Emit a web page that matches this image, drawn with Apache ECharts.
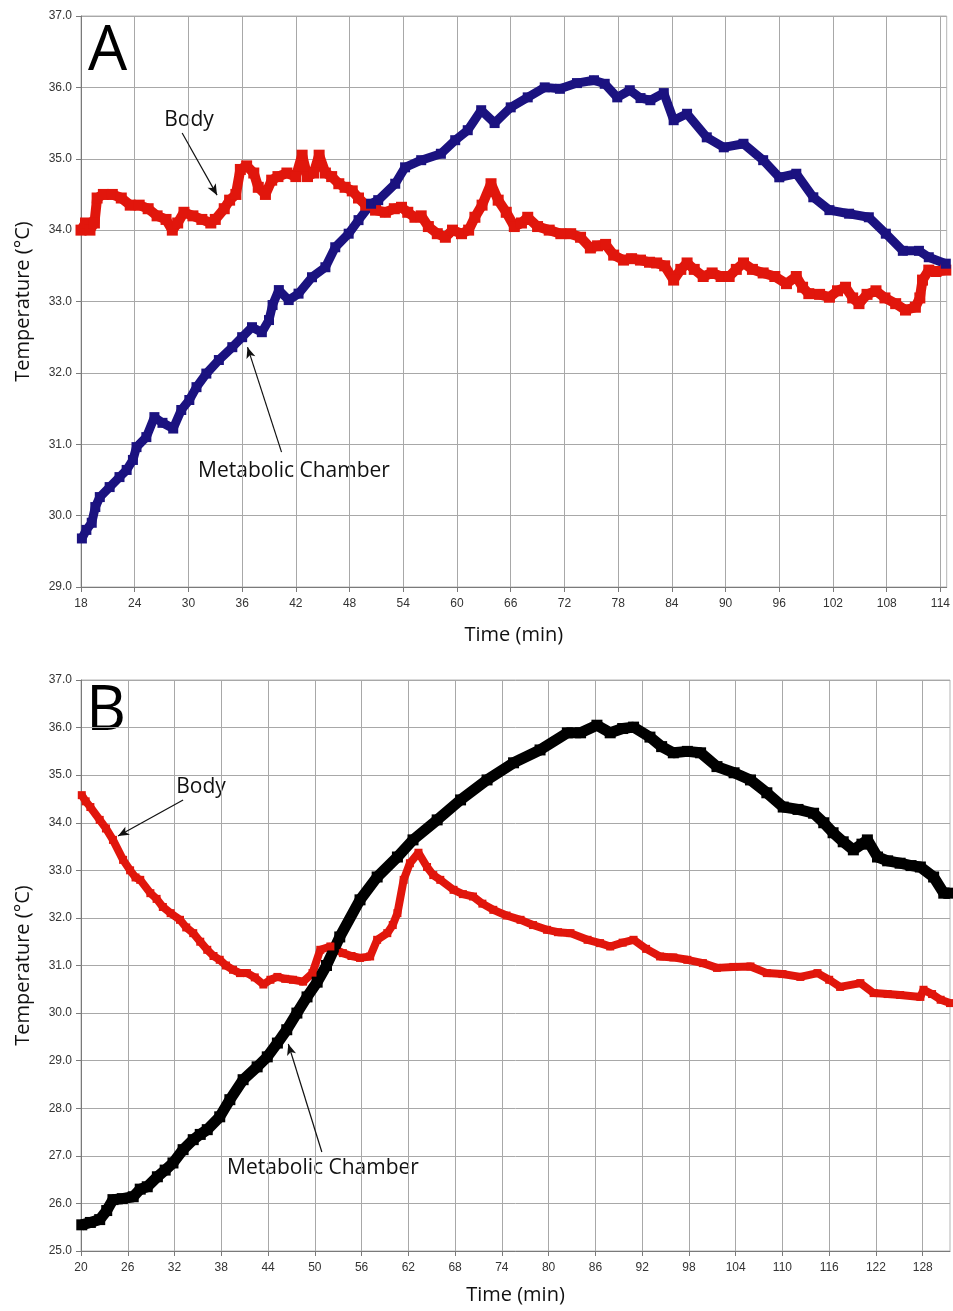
<!DOCTYPE html>
<html>
<head>
<meta charset="utf-8">
<script src="https://cdn.jsdelivr.net/npm/echarts@6/dist/echarts.min.js"></script>
<style>
html,body{margin:0;padding:0;background:#fff;}
#c{width:953px;height:1311px;}
</style>
</head>
<body>
<div id="c"></div>
<script>
// ---- Panel A data ----
const xTicksA = [18,24,30,36,42,48,54,60,66,72,78,84,90,96,102,108,114];
const yTicksA = [29,30,31,32,33,34,35,36,37];
const timeA_body = [18.0,18.5,19.0,19.5,19.8,20.5,21.5,22.5,23.5,24.5,25.5,26.5,27.5,28.2,28.8,29.5,30.5,31.5,32.5,33.0,34.0,34.6,35.3,35.8,36.5,37.3,37.8,38.6,39.3,40.0,41.0,42.0,42.7,43.3,44.0,44.6,45.3,46.0,46.8,47.5,48.3,49.0,49.8,50.9,52.0,53.0,53.8,54.5,55.3,56.0,56.8,57.8,58.7,59.5,60.5,61.3,62.0,62.8,63.8,64.6,65.5,66.4,67.2,67.9,69.0,70.3,71.6,72.7,73.8,74.9,75.7,76.6,77.5,78.6,79.5,80.5,81.5,82.3,83.2,84.2,85.0,85.7,86.5,87.5,88.5,89.5,90.4,91.2,92.0,93.0,94.2,95.5,96.8,97.9,98.6,99.3,100.5,101.6,102.5,103.4,104.2,104.9,105.8,106.8,107.8,109.0,110.1,111.2,111.7,112.0,112.7,113.5,114.6];
const tempA_body = [34.0,34.1,34.0,34.1,34.45,34.5,34.5,34.45,34.35,34.35,34.3,34.2,34.15,34.0,34.1,34.25,34.2,34.15,34.1,34.15,34.3,34.42,34.5,34.85,34.9,34.8,34.6,34.5,34.7,34.75,34.8,34.75,35.05,34.75,34.8,35.05,34.8,34.75,34.65,34.6,34.55,34.45,34.35,34.28,34.25,34.3,34.32,34.25,34.18,34.2,34.05,33.95,33.9,34.0,33.95,34.0,34.18,34.35,34.65,34.42,34.25,34.05,34.1,34.18,34.05,34.0,33.95,33.95,33.9,33.75,33.78,33.8,33.65,33.58,33.6,33.58,33.55,33.54,33.5,33.3,33.45,33.54,33.45,33.35,33.4,33.35,33.35,33.45,33.54,33.45,33.4,33.35,33.25,33.35,33.2,33.11,33.1,33.06,33.15,33.2,33.05,32.97,33.1,33.15,33.05,32.97,32.88,32.92,33.05,33.3,33.44,33.42,33.44];
const timeA_chamber = [18.1,18.6,19.2,19.6,20.1,21.2,22.3,23.1,23.8,24.2,25.3,26.2,27.1,28.3,29.2,30.1,30.9,32.0,33.4,34.9,36.0,37.1,38.2,39.0,39.4,40.1,41.2,42.3,43.8,45.3,46.4,47.9,49.0,50.4,51.2,53.1,54.2,56.0,58.2,59.8,61.2,62.7,64.2,66.0,67.9,69.8,71.5,73.4,75.3,76.5,77.9,79.3,80.5,81.6,83.1,84.2,85.7,87.9,89.8,92.0,94.2,96.0,97.9,99.8,101.6,103.8,106.0,107.9,109.8,111.6,112.7,114.6];
const tempA_chamber = [29.68,29.8,29.9,30.12,30.26,30.4,30.54,30.64,30.78,30.96,31.1,31.38,31.3,31.22,31.48,31.62,31.8,31.99,32.18,32.36,32.5,32.64,32.57,32.74,32.95,33.16,33.02,33.11,33.34,33.48,33.76,33.95,34.14,34.37,34.42,34.65,34.88,34.98,35.07,35.26,35.4,35.68,35.5,35.72,35.86,36.0,35.98,36.06,36.1,36.05,35.86,35.96,35.85,35.82,35.92,35.54,35.63,35.3,35.16,35.21,34.98,34.74,34.79,34.46,34.28,34.23,34.18,33.95,33.71,33.71,33.62,33.53];

// ---- Panel B data ----
const xTicksB = [20,26,32,38,44,50,56,62,68,74,80,86,92,98,104,110,116,122,128];
const yTicksB = [25,26,27,28,29,30,31,32,33,34,35,36,37];
const timeB_body = [20.1,20.6,21.2,22.4,23.2,24.1,25.4,26.3,27.0,27.6,28.9,29.7,30.5,31.5,32.7,33.5,34.4,35.3,36.2,37.0,37.8,38.6,39.5,40.4,41.3,42.3,43.4,44.3,45.2,46.2,47.2,48.5,49.7,50.7,52.0,53.6,54.7,55.8,57.1,58.0,59.3,60.0,60.6,61.4,62.2,63.3,64.4,65.2,66.1,67.8,69.0,70.3,71.5,72.9,74.6,76.4,78.0,79.8,81.2,82.8,85.0,86.6,87.9,89.5,90.9,92.5,94.3,96.0,97.8,99.8,101.6,103.7,105.9,108.0,110.0,112.3,114.5,116.0,117.4,120.0,121.7,123.5,125.1,127.7,128.1,129.2,130.3,131.5];
const tempB_body = [34.58,34.45,34.33,34.06,33.88,33.64,33.22,33.0,32.85,32.8,32.52,32.4,32.23,32.1,31.96,31.8,31.68,31.5,31.33,31.2,31.12,31.0,30.91,30.84,30.84,30.75,30.6,30.7,30.76,30.72,30.7,30.66,30.84,31.33,31.4,31.26,31.2,31.16,31.19,31.54,31.68,31.85,32.1,32.8,33.15,33.37,33.07,32.9,32.8,32.59,32.5,32.45,32.3,32.17,32.05,31.96,31.85,31.75,31.7,31.68,31.54,31.47,31.4,31.48,31.54,31.35,31.19,31.17,31.12,31.05,30.95,30.97,30.98,30.84,30.82,30.76,30.84,30.7,30.55,30.63,30.42,30.4,30.38,30.34,30.49,30.4,30.28,30.21];
const timeB_chamber = [20.1,21.2,22.4,23.3,24.1,25.3,26.7,27.6,28.5,29.8,30.8,31.8,33.1,34.4,35.3,36.2,37.8,39.1,40.8,42.6,43.9,45.2,46.4,47.7,49.0,50.3,51.5,53.2,55.8,58.0,60.6,62.6,65.7,68.7,72.1,75.5,78.9,82.4,84.1,86.2,87.9,89.5,90.9,93.0,94.5,96.0,97.8,99.5,101.6,103.8,105.9,108.0,110.1,112.0,114.0,115.3,116.5,117.8,119.1,120.2,120.9,122.2,123.5,125.1,126.5,127.7,129.4,130.7,131.5];
const tempB_chamber = [25.55,25.6,25.66,25.85,26.08,26.1,26.14,26.3,26.35,26.56,26.7,26.85,27.13,27.34,27.45,27.55,27.82,28.18,28.6,28.87,29.08,29.37,29.65,30.0,30.34,30.65,31.0,31.6,32.38,32.86,33.28,33.64,34.06,34.48,34.9,35.26,35.53,35.89,35.89,36.05,35.89,35.98,36.01,35.8,35.6,35.47,35.5,35.47,35.18,35.05,34.9,34.63,34.33,34.28,34.2,34.0,33.79,33.6,33.43,33.55,33.64,33.28,33.2,33.15,33.1,33.07,32.86,32.52,32.52];

const zip = (a, b) => a.map((v, i) => [v, b[i]]);

const RED = '#e1160c', NAVY = '#1b1280', BLACK = '#000000';
const tickFont = 'Liberation Sans, Arial, sans-serif';
const textFont = 'Open Sans, Noto Sans, sans-serif';

function xAxis(idx, min, max, ticks, gap) {
  return {
    type: 'value', gridIndex: idx, min: min, max: max,
    name: 'Time (min)', nameLocation: 'middle', nameGap: gap,
    nameTextStyle: {fontFamily: textFont, fontSize: 20, color: '#111'},
    axisLine: {show: true, onZero: false, lineStyle: {color: '#7a7a7a', width: 1}},
    axisTick: {show: true, length: 5, customValues: ticks, lineStyle: {color: '#7a7a7a'}},
    axisLabel: {customValues: ticks, margin: 11, fontFamily: tickFont, fontSize: 12, color: '#333'},
    splitLine: {show: true, lineStyle: {color: '#a8a8a8', width: 1}}
  };
}
function yAxis(idx, min, max) {
  return {
    type: 'value', gridIndex: idx, min: min, max: max, interval: 1,
    name: 'Temperature (°C)', nameLocation: 'middle', nameGap: 48, nameRotate: 90,
    nameTextStyle: {fontFamily: textFont, fontSize: 20, color: '#111'},
    axisLine: {show: true, lineStyle: {color: '#7a7a7a', width: 1}},
    axisTick: {show: true, length: 5, lineStyle: {color: '#7a7a7a'}},
    axisLabel: {formatter: v => v.toFixed(1), margin: 9, fontFamily: tickFont, fontSize: 12, color: '#333'},
    splitLine: {show: true, lineStyle: {color: '#a8a8a8', width: 1}}
  };
}
function arrow(from, to) {
  return {
    silent: true, animation: false, symbol: ['none', 'arrow'], symbolSize: [7, 11],
    lineStyle: {color: '#111', width: 1.2, type: 'solid'}, label: {show: false},
    data: [[{coord: from}, {coord: to}]]
  };
}
function series(name, xi, times, temps, color, width, sym, arrowFrom, arrowTo) {
  return {
    name: name, type: 'line', xAxisIndex: xi, yAxisIndex: xi,
    data: zip(times, temps), showSymbol: true, symbol: 'rect', symbolSize: sym,
    itemStyle: {color: color}, lineStyle: {color: color, width: width},
    animation: false, markLine: arrow(arrowFrom, arrowTo)
  };
}

const chart = echarts.init(document.getElementById('c'), null, {renderer: 'canvas'});
chart.setOption({
  backgroundColor: '#fff',
  grid: [
    {left: 81, top: 16, width: 870, height: 571, show: true, borderColor: '#b5b5b5', borderWidth: 1},
    {left: 81, top: 680, width: 869, height: 571, show: true, borderColor: '#b5b5b5', borderWidth: 1}
  ],
  xAxis: [xAxis(0, 18, 114.7, xTicksA, 38), xAxis(1, 20, 131.5, xTicksB, 34)],
  yAxis: [yAxis(0, 29, 37), yAxis(1, 25, 37)],
  series: [
    series('Body', 0, timeA_body, tempA_body, RED, 10, 11, [29.3, 35.36], [33.2, 34.49]),
    series('Metabolic Chamber', 0, timeA_chamber, tempA_chamber, NAVY, 9, 10, [40.4, 30.89], [36.6, 32.36]),
    series('Body', 1, timeB_body, tempB_body, RED, 8, 8, [33.1, 34.48], [24.75, 33.72]),
    series('Metabolic Chamber', 1, timeB_chamber, tempB_chamber, BLACK, 11, 11, [50.9, 27.08], [46.6, 29.35])
  ],
  graphic: [
    {type: 'text', left: 88, top: 21, style: {text: 'A', font: '62px ' + textFont, fill: '#000'}},
    {type: 'text', left: 86, top: 681, style: {text: 'B', font: '62px ' + textFont, fill: '#000'}},
    {type: 'text', x: 189, y: 120, style: {text: 'Body', font: '21px ' + textFont, fill: '#111', align: 'center', verticalAlign: 'middle'}},
    {type: 'text', x: 294, y: 471, style: {text: 'Metabolic Chamber', font: '21px ' + textFont, fill: '#111', align: 'center', verticalAlign: 'middle'}},
    {type: 'text', x: 201, y: 787, style: {text: 'Body', font: '21px ' + textFont, fill: '#111', align: 'center', verticalAlign: 'middle'}},
    {type: 'text', x: 323, y: 1168, style: {text: 'Metabolic Chamber', font: '21px ' + textFont, fill: '#111', align: 'center', verticalAlign: 'middle'}}
  ]
});
</script>
</body>
</html>
